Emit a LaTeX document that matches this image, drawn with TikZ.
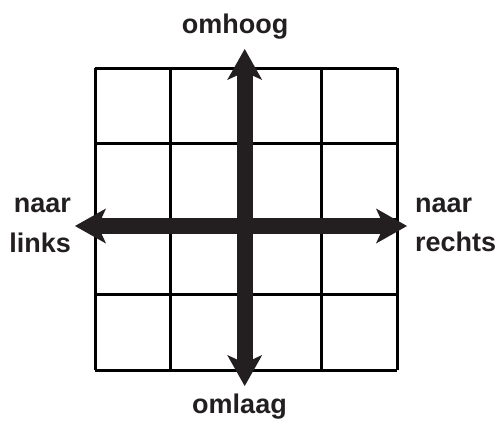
\documentclass[tikz,border=0pt]{standalone}
\usepackage{fontspec}
\setmainfont{Liberation Sans}
\usepackage{tikz}
\usetikzlibrary{arrows.meta}
\definecolor{ink}{HTML}{231F20}
\definecolor{gridc}{HTML}{000000}

\begin{document}
\begin{tikzpicture}[x=1pt,y=-1pt,
  cell/.style={draw=gridc,line width=3pt},
  dir/.style={ink,line width=16pt,
    {Stealth[length=31pt,width=35pt,inset=8pt,line width=0pt]}-{Stealth[length=31pt,width=35pt,inset=8pt,line width=0pt]}},
  lab/.style={font=\bfseries\fontsize{27}{32}\selectfont,text=ink,inner sep=0pt}]
\useasboundingbox (0,0) rectangle (499,421);
\draw[cell] (95,68) -- (95,370);
\draw[cell] (170.5,68) -- (170.5,370);
\draw[cell] (246,68) -- (246,370);
\draw[cell] (321.5,68) -- (321.5,370);
\draw[cell] (397,68) -- (397,370);
\draw[cell] (95,68) -- (397,68);
\draw[cell] (95,143.5) -- (397,143.5);
\draw[cell] (95,219) -- (397,219);
\draw[cell] (95,294.5) -- (397,294.5);
\draw[cell] (95,370) -- (397,370);
\coordinate (up) at (244.7,49);
\coordinate (down) at (244.7,386);
\coordinate (left) at (75,226);
\coordinate (right) at (407,226);
\draw[dir] (down) -- (up);
\draw[dir] (left) -- (right);
\node[lab,anchor=base] (omhoog) at (235,33) {omhoog};
\node[lab,anchor=base] (omlaag) at (239.5,413) {omlaag};
\node[lab,anchor=base east] (naarL) at (71,212) {naar};
\node[lab,anchor=base east] (links) at (71,252) {links};
\node[lab,anchor=base west] (naarR) at (415,212) {naar};
\node[lab,anchor=base west] (rechts) at (415,251) {rechts};
\end{tikzpicture}
\end{document}
